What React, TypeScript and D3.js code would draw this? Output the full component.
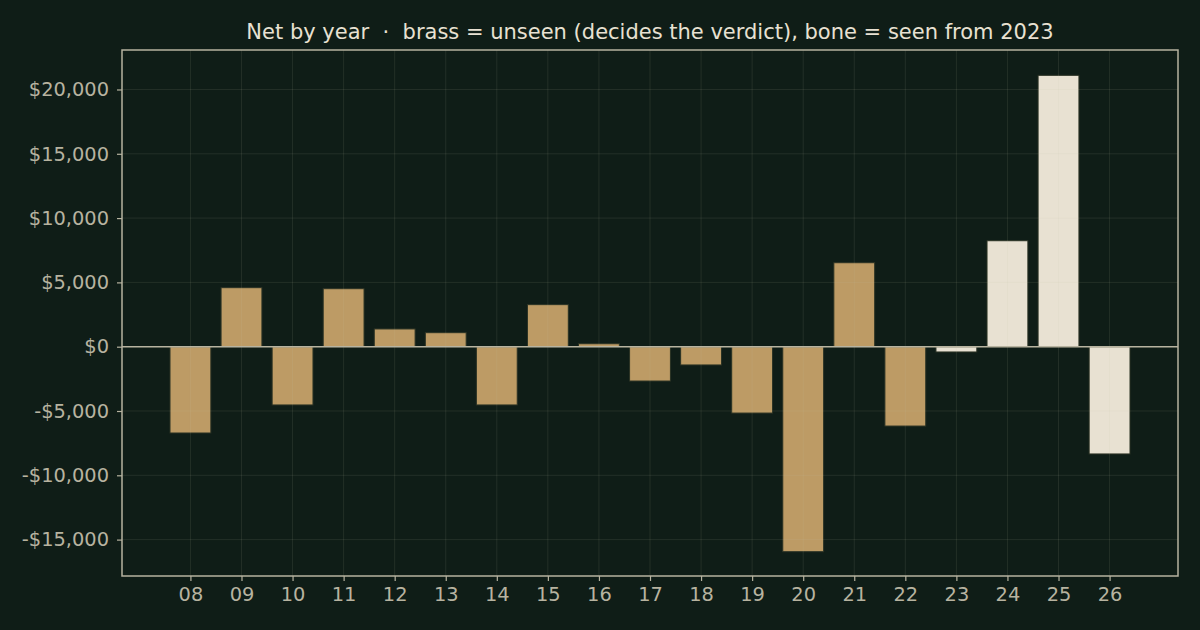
import { useEffect, useRef } from 'react'
import * as d3 from 'd3'

const years = ['08', '09', '10', '11', '12', '13', '14', '15', '16', '17', '18', '19', '20', '21', '22', '23', '24', '25', '26']
const net = [-6710, 4590, -4530, 4510, 1380, 1090, -4530, 3270, 230, -2670, -1420, -5160, -15940, 6530, -6170, -410, 8240, 21100, -8340]
const seenFrom = 2023
const yTicks = [-15000, -10000, -5000, 0, 5000, 10000, 15000, 20000]

const W = 1200
const H = 630
const BG = '#0f1d17'
const BRASS = '#bd9b65'
const BONE = '#e8e1d2'
const INK = '#b7b3a0'

export default function App() {
  const svgRef = useRef<SVGSVGElement | null>(null)

  useEffect(() => {
    document.body.style.margin = '0'
    document.body.style.background = BG

    const margin = { top: 50, right: 22, bottom: 54, left: 122 }
    const innerW = W - margin.left - margin.right
    const innerH = H - margin.top - margin.bottom

    const svg = d3.select(svgRef.current)
    svg.selectAll('*').remove()
    svg.attr('viewBox', `0 0 ${W} ${H}`)

    svg.append('rect').attr('width', W).attr('height', H).attr('fill', BG)

    const g = svg.append('g').attr('transform', `translate(${margin.left},${margin.top})`)

    // ================= SCALES =================
    const x = d3.scaleLinear().domain([-1.34, years.length - 1 + 1.34]).range([0, innerW])
    const y = d3.scaleLinear().domain([-17830, 23070]).range([innerH, 0])
    const barW = x(0.8) - x(0)

    // ================= BARS =================
    g.selectAll('.bar')
      .data(net)
      .join('rect')
      .attr('class', 'bar')
      .attr('x', (_, i) => x(i) - barW / 2)
      .attr('y', (d) => y(Math.max(0, d)))
      .attr('width', barW)
      .attr('height', (d) => Math.abs(y(d) - y(0)))
      .attr('fill', (_, i) => (2000 + +years[i] >= seenFrom ? BONE : BRASS))
      .attr('stroke', '#2a3224')
      .attr('stroke-width', 1)

    // ================= GRID =================
    g.selectAll('.hgrid')
      .data(yTicks)
      .join('line')
      .attr('x1', 0)
      .attr('x2', innerW)
      .attr('y1', (d) => y(d))
      .attr('y2', (d) => y(d))
      .attr('stroke', '#c8c4b0')
      .attr('stroke-opacity', 0.14)
      .attr('stroke-width', 0.8)

    g.selectAll('.vgrid')
      .data(years)
      .join('line')
      .attr('x1', (_, i) => x(i))
      .attr('x2', (_, i) => x(i))
      .attr('y1', 0)
      .attr('y2', innerH)
      .attr('stroke', '#c8c4b0')
      .attr('stroke-opacity', 0.14)
      .attr('stroke-width', 0.8)

    // zero line
    g.append('line')
      .attr('x1', 0)
      .attr('x2', innerW)
      .attr('y1', y(0))
      .attr('y2', y(0))
      .attr('stroke', INK)
      .attr('stroke-width', 1.5)

    // frame
    g.append('rect')
      .attr('width', innerW)
      .attr('height', innerH)
      .attr('fill', 'none')
      .attr('stroke', INK)
      .attr('stroke-width', 1.5)

    // ================= AXES =================
    const fmt = (v: number) => (v < 0 ? '-$' : '$') + d3.format(',')(Math.abs(v))

    const yAxis = g.append('g').call(
      d3.axisLeft(y).tickValues(yTicks).tickSize(5).tickPadding(8).tickFormat((d) => fmt(+d))
    )
    const xAxis = g
      .append('g')
      .attr('transform', `translate(0,${innerH})`)
      .call(
        d3
          .axisBottom(x)
          .tickValues(d3.range(years.length))
          .tickSize(5)
          .tickPadding(6)
          .tickFormat((d) => years[+d])
      )

    for (const ax of [yAxis, xAxis]) {
      ax.select('.domain').remove()
      ax.selectAll('line').attr('stroke', INK).attr('stroke-width', 1.2)
      ax.selectAll('text')
        .attr('fill', INK)
        .attr('font-family', 'DejaVu Sans')
        .attr('font-size', 19.4)
    }

    // ================= TITLE =================
    svg
      .append('text')
      .attr('x', margin.left + innerW / 2)
      .attr('y', 39)
      .attr('text-anchor', 'middle')
      .attr('fill', BONE)
      .attr('font-family', 'DejaVu Sans')
      .attr('font-size', 21)
      .attr('xml:space', 'preserve')
      .text(`Net by year  ·  brass = unseen (decides the verdict), bone = seen from ${seenFrom}`)
  }, [])

  return <svg ref={svgRef} width={W} height={H} style={{ display: 'block' }} />
}
